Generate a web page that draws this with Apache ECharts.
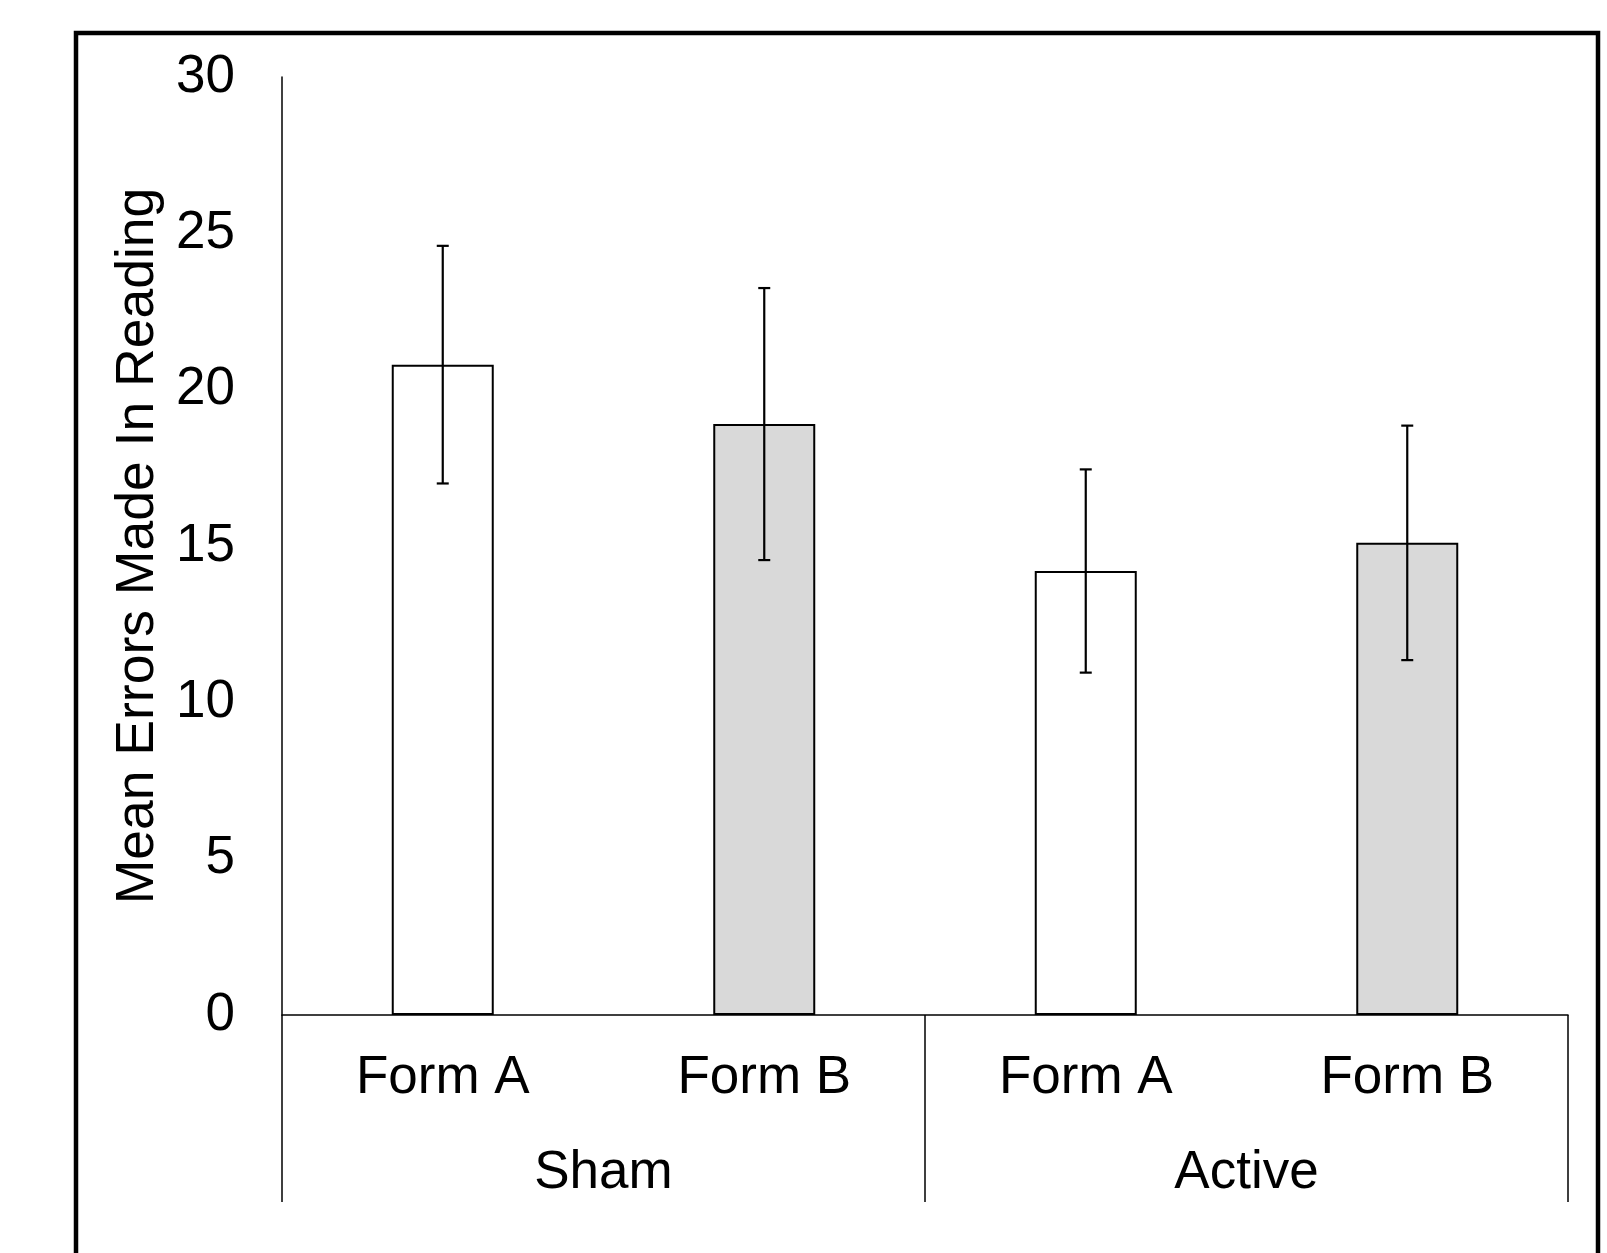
<!DOCTYPE html>
<html>
<head>
<meta charset="utf-8">
<script src="https://cdn.jsdelivr.net/npm/echarts@6/dist/echarts.min.js"></script>
<style>
html,body{margin:0;padding:0;background:#fff;}
#chart{width:1607px;height:1253px;}
</style>
</head>
<body>
<div id="chart"></div>
<script>
const categories = ['Form A', 'Form B', 'Form A', 'Form B'];
const groups = ['Sham', 'Active'];
const means = [20.8, 18.9, 14.2, 15.1];
const errors = [3.8, 4.35, 3.25, 3.75];
const barColors = ['#ffffff', '#d9d9d9', '#ffffff', '#d9d9d9'];
const yTitle = 'Mean Errors Made In Reading';

const FONT = "'Liberation Sans', Arial, sans-serif";
const chart = echarts.init(document.getElementById('chart'), null, {renderer: 'canvas'});

const barData = means.map((v, i) => ({value: v, itemStyle: {color: barColors[i]}}));
const errData = means.map((v, i) => [i, v - errors[i], v + errors[i]]);

chart.setOption({
  animation: false,
  backgroundColor: '#ffffff',
  textStyle: {fontFamily: FONT},
  grid: {left: 282, right: 39, top: 77, bottom: 238, containLabel: false},
  graphic: [{
    type: 'rect',
    shape: {x: 76, y: 33, width: 1522, height: 1300},
    style: {fill: 'none', stroke: '#000', lineWidth: 4.5},
    silent: true
  }],
  xAxis: [{
    type: 'category',
    data: categories,
    position: 'bottom',
    axisLine: {show: true, lineStyle: {color: '#000', width: 1.5}},
    axisTick: {show: false},
    axisLabel: {color: '#000', fontSize: 53, fontFamily: FONT, margin: 37, interval: 0},
    splitLine: {show: false}
  }, {
    type: 'category',
    data: groups,
    position: 'bottom',
    axisLine: {show: false},
    axisTick: {show: true, length: 187, interval: 0, lineStyle: {color: '#000', width: 1.5}},
    axisLabel: {color: '#000', fontSize: 53, fontFamily: FONT, margin: 132, interval: 0},
    splitLine: {show: false}
  }],
  yAxis: {
    type: 'value',
    min: 0, max: 30, interval: 5,
    name: yTitle,
    nameLocation: 'middle',
    nameRotate: 90,
    nameGap: 107,
    nameTextStyle: {color: '#000', fontSize: 53.5, fontFamily: FONT},
    axisLine: {show: true, lineStyle: {color: '#000', width: 1.5}},
    axisTick: {show: false},
    axisLabel: {color: '#000', fontSize: 53, fontFamily: FONT, margin: 47},
    splitLine: {show: false}
  },
  series: [{
    type: 'bar',
    xAxisIndex: 0,
    data: barData,
    barWidth: 102,
    itemStyle: {borderColor: '#000', borderWidth: 2},
    z: 2
  }, {
    type: 'custom',
    xAxisIndex: 0,
    data: errData,
    encode: {x: 0, y: [1, 2]},
    z: 5,
    renderItem: function (params, api) {
      const x = api.value(0);
      const lo = api.coord([x, api.value(1)]);
      const hi = api.coord([x, api.value(2)]);
      const hw = 6;
      const st = {stroke: '#000', lineWidth: 2.2};
      return {
        type: 'group',
        children: [
          {type: 'line', shape: {x1: lo[0], y1: lo[1], x2: hi[0], y2: hi[1]}, style: st},
          {type: 'line', shape: {x1: lo[0] - hw, y1: lo[1], x2: lo[0] + hw, y2: lo[1]}, style: st},
          {type: 'line', shape: {x1: hi[0] - hw, y1: hi[1], x2: hi[0] + hw, y2: hi[1]}, style: st}
        ]
      };
    }
  }]
});
</script>
</body>
</html>
